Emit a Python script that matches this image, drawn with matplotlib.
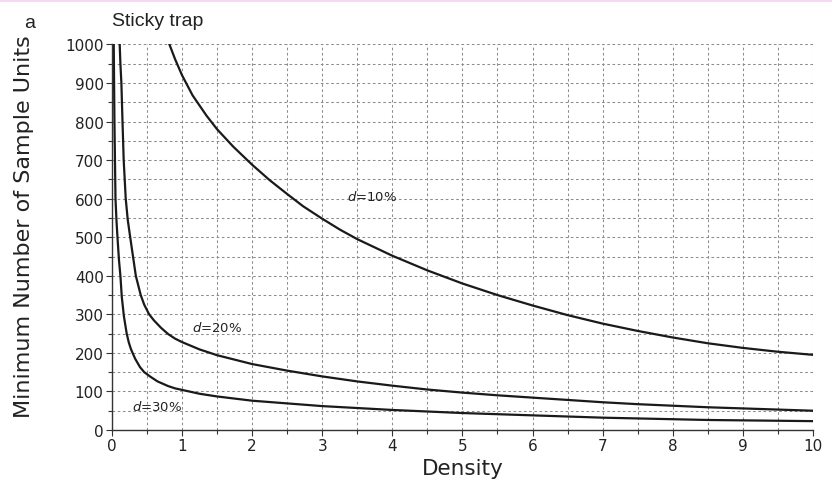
import matplotlib
matplotlib.use("Agg")
import matplotlib.pyplot as plt
from matplotlib.patches import Rectangle
from matplotlib.ticker import MultipleLocator

# values
x_d10 = [0.82, 0.9, 1.0, 1.15, 1.35, 1.5, 1.73, 2.0, 2.25, 2.5, 2.73, 3.0, 3.25, 3.5, 4.0, 4.5, 5.0, 5.5, 6.0, 6.5, 7.0, 7.5, 8.0, 8.5, 9.0, 9.5, 10.0]
y_d10 = [1000, 962, 920, 868, 815, 780, 735, 688, 648, 612, 580, 548, 520, 495, 452, 414, 380, 350, 323, 298, 276, 257, 240, 225, 213, 203, 195]

x_d20 = [0.11, 0.12, 0.134, 0.15, 0.167, 0.196, 0.225, 0.26, 0.3, 0.34, 0.41, 0.46, 0.53, 0.6, 0.7, 0.8, 0.9, 1.0, 1.25, 1.5, 2.0, 2.5, 3.0, 3.5, 4.0, 4.5, 5.0, 5.5, 6.0, 6.5, 7.0, 7.5, 8.0, 8.5, 9.0, 9.5, 10.0]
y_d20 = [1000, 950, 900, 800, 700, 600, 545, 500, 450, 400, 350, 325, 300, 284, 265, 249, 237, 228, 209, 194, 171, 154, 139, 126, 115, 105, 97, 90, 84, 78, 72, 67, 63, 59, 56, 53, 50]

x_d30 = [0.025, 0.035, 0.05, 0.065, 0.08, 0.1, 0.12, 0.14, 0.17, 0.21, 0.24, 0.27, 0.33, 0.4, 0.46, 0.55, 0.65, 0.8, 0.9, 1.0, 1.25, 1.5, 2.0, 2.5, 3.0, 3.5, 4.0, 4.5, 5.0, 5.5, 6.0, 6.5, 7.0, 7.5, 8.0, 8.5, 9.0, 9.5, 10.0]
y_d30 = [1000, 800, 600, 540, 495, 440, 400, 345, 295, 250, 227, 210, 185, 163, 150, 138, 126, 114, 108, 104, 94, 87, 76, 69, 62, 57, 52, 48, 44, 41, 38, 35, 32, 30, 28, 26, 25, 24, 23]

curve_labels = [r"$\it{d}$=10%", r"$\it{d}$=20%", r"$\it{d}$=30%"]
label_x = [3.71, 1.5, 0.65]
label_y = [608, 268, 63]

fig = plt.figure(figsize=(8.32, 4.89), dpi=100)
ax = fig.add_axes([0.1346, 0.1186, 0.977 - 0.1346, 0.907 - 0.1186])

# faint pink strip along the top edge of the scan
fig.add_artist(Rectangle((0, 0.994), 1, 0.006, transform=fig.transFigure,
                         color="#f6d8f4", lw=0))

for xs, ys in [(x_d10, y_d10), (x_d20, y_d20), (x_d30, y_d30)]:
    ax.plot(xs, ys, color="#1a1a1a", lw=1.6, solid_joinstyle="round")

ax.set_xlim(0, 10)
ax.set_ylim(0, 1000)
ax.xaxis.set_major_locator(MultipleLocator(1))
ax.xaxis.set_minor_locator(MultipleLocator(0.5))
ax.yaxis.set_major_locator(MultipleLocator(100))
ax.yaxis.set_minor_locator(MultipleLocator(50))

ax.grid(True, which="both", color="#8c8c8c", lw=0.75, linestyle=(0, (2.5, 2.5)))
ax.set_axisbelow(True)

for side in ["top", "right"]:
    ax.spines[side].set_visible(False)
for side in ["left", "bottom"]:
    ax.spines[side].set_color("#333333")
    ax.spines[side].set_linewidth(1.0)

ax.tick_params(which="both", direction="out", color="#333333", width=0.8)
ax.tick_params(which="major", length=4, labelsize=11, labelcolor="#222222", pad=2)
ax.tick_params(which="minor", length=3)

ax.set_xlabel("Density", fontsize=15.5, color="#222222", labelpad=3)
ax.set_ylabel("Minimum Number of Sample Units", fontsize=16, color="#222222")
ax.yaxis.set_label_coords(-0.111, 0.53)

for txt, lx, ly in zip(curve_labels, label_x, label_y):
    ax.text(lx, ly, txt, fontsize=9.5, ha="center", va="center", color="#222222")

fig.text(0.029, 0.943, "a", fontsize=14, family="Liberation Sans", color="#222222", va="baseline")
fig.text(0.1346, 0.947, "Sticky trap", fontsize=14, family="Liberation Sans", color="#222222", va="baseline")

fig.savefig("out.png", dpi=100)
